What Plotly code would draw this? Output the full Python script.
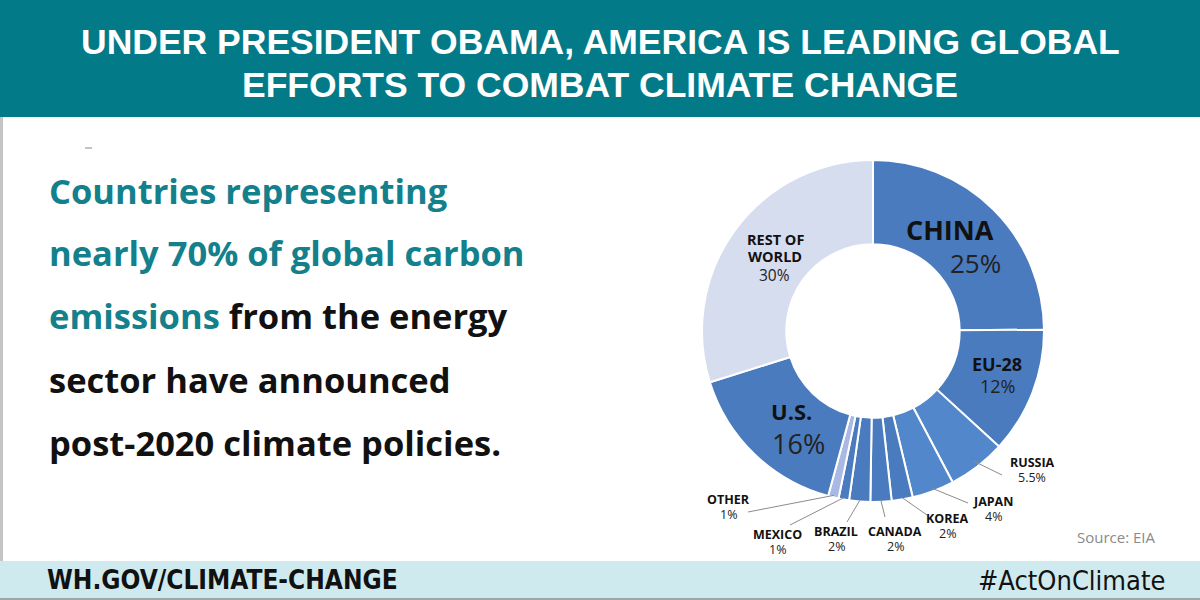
import math
import plotly.graph_objects as go

# ---------------- data ----------------
regions = ["CHINA", "EU-28", "RUSSIA", "JAPAN", "KOREA", "CANADA", "BRAZIL",
           "MEXICO", "OTHER", "U.S.", "REST OF WORLD"]
shares = [25, 12, 5.5, 4, 2, 2, 2, 1, 1, 16, 30]
share_labels = ["25%", "12%", "5.5%", "4%", "2%", "2%", "2%", "1%", "1%", "16%", "30%"]
slice_colors = ["#4a7bbf", "#4a7bbf", "#5287cb", "#5287cb", "#4a7bbf", "#4a7bbf",
                "#4a7bbf", "#4a7bbf", "#a9b9e3", "#4a7bbf", "#d6ddef"]

W, H = 1200, 600
CX, CY, R = 873, 331, 171      # donut centre / outer radius in pixels


def px(x, y):
    return x / W, 1 - y / H


fig = go.Figure()

fig.add_trace(go.Pie(
    labels=regions, values=shares, sort=False, direction="clockwise",
    rotation=0, hole=0.507, textinfo="none", hoverinfo="label+value",
    marker=dict(colors=slice_colors, line=dict(color="white", width=2)),
    domain=dict(x=[(CX - R) / W, (CX + R) / W],
                y=[1 - (CY + R) / H, 1 - (CY - R) / H]),
    showlegend=False,
))

shapes = []
annotations = []

# background bands
shapes.append(dict(type="rect", xref="paper", yref="paper", x0=0, x1=1,
                   y0=px(0, 117)[1], y1=1, fillcolor="#037a87", line_width=0, layer="below"))
shapes.append(dict(type="rect", xref="paper", yref="paper", x0=0, x1=1,
                   y0=0, y1=px(0, 561)[1], fillcolor="#cfeaee", line_width=0, layer="below"))
shapes.append(dict(type="line", xref="paper", yref="paper", x0=px(1.5, 0)[0], x1=px(1.5, 0)[0],
                   y0=px(0, 561)[1], y1=px(0, 117)[1], line=dict(color="#c4c4c4", width=3)))
shapes.append(dict(type="line", xref="paper", yref="paper", x0=0, x1=1,
                   y0=px(0, 599)[1], y1=px(0, 599)[1], line=dict(color="#9aa6a8", width=2)))
shapes.append(dict(type="line", xref="paper", yref="paper", x0=px(85, 0)[0], x1=px(92, 0)[0],
                   y0=px(0, 148)[1], y1=px(0, 148)[1], line=dict(color="#888888", width=1)))

TITLE_FONT = "Liberation Sans, Arial, sans-serif"
HEAD_FONT = "DejaVu Sans Condensed, Liberation Sans Narrow, sans-serif"
BODY_FONT = "Open Sans, sans-serif"


def text(x, y, t, size, color="#111111", family=BODY_FONT, xanchor="center", yanchor="middle"):
    xx, yy = px(x, y)
    annotations.append(dict(x=xx, y=yy, xref="paper", yref="paper", text=t, showarrow=False,
                            xanchor=xanchor, yanchor=yanchor,
                            font=dict(size=size, color=color, family=family)))


# header
text(600, 41.5, "<b>UNDER PRESIDENT OBAMA, AMERICA IS LEADING GLOBAL</b>", 35.5, "white", TITLE_FONT)
text(600, 84.5, "<b>EFFORTS TO COMBAT CLIMATE CHANGE</b>", 35.5, "white", TITLE_FONT)

# left statement
TEAL = "#13808b"
lines = [
    f"<b><span style='color:{TEAL}'>Countries representing</span></b>",
    f"<b><span style='color:{TEAL}'>nearly 70% of global carbon</span></b>",
    f"<b><span style='color:{TEAL}'>emissions</span> from the energy</b>",
    "<b>sector have announced</b>",
    "<b>post-2020 climate policies.</b>",
]
for i, ln in enumerate(lines):
    text(47, 190 + i * 63, ln, 34.5, "#111111", BODY_FONT, xanchor="left")

# footer
text(45, 580, "<b>WH.GOV/CLIMATE-CHANGE</b>", 26, "#111111", HEAD_FONT, xanchor="left")
text(1167, 580, "#ActOnClimate", 27, "#111111", HEAD_FONT, xanchor="right")
text(1158, 537, "Source: EIA", 15, "#8a8a8a", BODY_FONT, xanchor="right")

# in-slice labels for the large slices
i = regions.index("CHINA")
text(950, 230, "<b>CHINA</b>", 27)
text(975, 263, share_labels[i], 26, "#222222")

i = regions.index("EU-28")
text(997, 364, "<b>EU-28</b>", 18)
text(997, 386, share_labels[i], 18, "#222222")

i = regions.index("U.S.")
text(791, 411, "<b>U.S.</b>", 22)
text(798, 443, share_labels[i], 27, "#222222")

i = regions.index("REST OF WORLD")
text(775, 239, "<b>REST OF</b>", 14.5)
text(775, 256.5, "<b>WORLD</b>", 14.5)
text(774, 275, share_labels[i], 15.5, "#222222")

# outside labels with leader lines (start point from slice mid-angle)
outside = {
    "RUSSIA": ((1032, 462), (1002, 475), 164),
    "JAPAN": ((993, 501), (968, 503), 168),
    "KOREA": ((947, 518), (927, 515), 169),
    "CANADA": ((895, 531), (885, 517), 170),
    "BRAZIL": ((836, 531), (847, 522), 170),
    "MEXICO": ((777, 534), (790, 525), 169),
    "OTHER": ((728, 499), (748, 512), 169),
}
total = sum(shares)
cum = 0
mids = {}
for name, v in zip(regions, shares):
    mids[name] = (cum + v / 2) / total * 2 * math.pi
    cum += v
for name, ((lx, ly), (ex, ey), rr) in outside.items():
    i = regions.index(name)
    th = mids[name]
    sx, sy = CX + rr * math.sin(th), CY - rr * math.cos(th)
    x0, y0 = px(sx, sy)
    x1, y1 = px(ex, ey)
    shapes.append(dict(type="line", xref="paper", yref="paper", x0=x0, y0=y0, x1=x1, y1=y1,
                       line=dict(color="#8c8c8c", width=1)))
    text(lx, ly, f"<b>{name}</b>", 12.5)
    text(lx, ly + 15, share_labels[i], 12.5, "#222222")

fig.update_layout(
    width=W, height=H, margin=dict(l=0, r=0, t=0, b=0),
    paper_bgcolor="white", plot_bgcolor="white",
    shapes=shapes, annotations=annotations,
)

fig.write_html("out.html", config={"displayModeBar": False},
               post_script="document.body.style.margin='0';")
